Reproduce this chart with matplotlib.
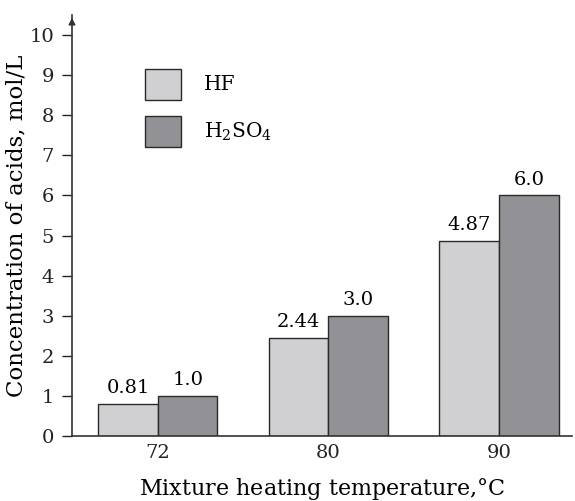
import numpy as np
import matplotlib.pyplot as plt
from matplotlib.patches import Rectangle

plt.rcParams['font.family'] = 'DejaVu Serif'
plt.rcParams['mathtext.fontset'] = 'dejavuserif'

temps = ['72', '80', '90']
hf = [0.81, 2.44, 4.87]
h2so4 = [1.0, 3.0, 6.0]
hf_labels = ['0.81', '2.44', '4.87']
h2so4_labels = ['1.0', '3.0', '6.0']

light = '#d0d0d2'
dark = '#929296'
edge = '#2a2a2a'

fig = plt.figure(figsize=(5.75, 5.01), dpi=100)
ax = fig.add_axes([72 / 575, 1 - 436 / 501, 500 / 575, (436 - 15) / 501])

x = np.arange(len(temps))
w = 0.349
ax.bar(x - w / 2, hf, w, color=light, edgecolor=edge, linewidth=1.0)
ax.bar(x + w / 2, h2so4, w, color=dark, edgecolor=edge, linewidth=1.0)

for i in range(len(temps)):
    ax.text(x[i] - w / 2, hf[i] + 0.17, hf_labels[i], ha='center', va='bottom', fontsize=14)
    ax.text(x[i] + w / 2, h2so4[i] + 0.17, h2so4_labels[i], ha='center', va='bottom', fontsize=14)

ax.set_xlim(-0.504, 2.428)
ax.set_ylim(0, 10.5)
ax.set_yticks(range(0, 11))
ax.set_xticks(x)
ax.set_xticklabels(temps)
ax.tick_params(axis='y', direction='out', length=7, width=1.0, labelsize=14, pad=6, colors='#222222')
ax.tick_params(axis='x', length=0, labelsize=14, pad=6, colors='#222222')

for s in ['top', 'right']:
    ax.spines[s].set_visible(False)
for s in ['left', 'bottom']:
    ax.spines[s].set_linewidth(1.2)
    ax.spines[s].set_color('#333333')

# arrow at top of y axis
ax.annotate('', xy=(0, 1.0), xycoords='axes fraction', xytext=(0, 0.97),
            arrowprops=dict(arrowstyle='-|>', color='#333333', lw=1.0, mutation_scale=10))

ax.set_xlabel('Mixture heating temperature,$\\degree$C', fontsize=16, labelpad=10)
ax.set_ylabel('Concentration of acids, mol/L', fontsize=16.5, labelpad=1)

# legend
for yy, col, lab in [(8.77, light, 'HF'), (7.59, dark, 'H$_2$SO$_4$')]:
    ax.add_patch(Rectangle((-0.075, yy - 0.385), 0.21, 0.77, facecolor=col,
                           edgecolor=edge, linewidth=1.0))
    ax.text(0.27, yy, lab, va='center', ha='left', fontsize=14.5)

fig.savefig('out.png', dpi=100)
